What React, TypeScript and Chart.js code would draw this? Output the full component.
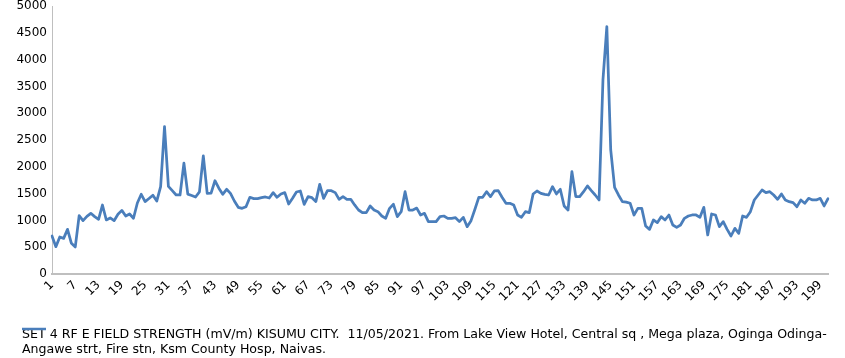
import React, { useEffect, useRef } from "react";
import { Chart, registerables } from "chart.js";

Chart.register(...registerables);

const categories: string[] = Array.from({ length: 201 }, (_, i) => String(i + 1));

const fieldStrength: number[] = [
  709, 510, 690, 665, 833, 572, 505, 1090, 995, 1075,
  1132, 1070, 1020, 1287, 1008, 1045, 995, 1115, 1187, 1082,
  1120, 1040, 1325, 1487, 1350, 1408, 1470, 1360, 1630, 2750,
  1635, 1555, 1474, 1474, 2070, 1490, 1465, 1437, 1533, 2205,
  1505, 1510, 1740, 1600, 1487, 1580, 1505, 1362, 1244, 1225,
  1256, 1431, 1406, 1406, 1424, 1437, 1418, 1518, 1431, 1493,
  1518, 1306, 1412, 1530, 1549, 1300, 1443, 1424, 1350, 1673,
  1412, 1555, 1555, 1518, 1393, 1443, 1393, 1393, 1288, 1194,
  1144, 1144, 1269, 1194, 1163, 1082, 1039, 1225, 1300, 1070,
  1163, 1536, 1194, 1194, 1230, 1101, 1132, 977, 977, 977,
  1070, 1082, 1039, 1039, 1051, 977, 1057, 883, 995, 1207,
  1431, 1431, 1536, 1443, 1549, 1555, 1431, 1319, 1319, 1288,
  1101, 1057, 1163, 1144, 1493, 1549, 1505, 1487, 1474, 1630,
  1493, 1580, 1269, 1194, 1910, 1443, 1443, 1536, 1642, 1555,
  1474, 1381, 3620, 4615, 2314, 1617, 1474, 1350, 1340, 1319,
  1101, 1225, 1225, 896, 833, 1008, 958, 1070, 1008, 1101,
  914, 871, 914, 1039, 1082, 1101, 1101, 1057, 1244, 728,
  1120, 1101, 883, 977, 833, 709, 852, 759, 1082, 1057,
  1163, 1381, 1474, 1567, 1518, 1536, 1474, 1393, 1493, 1381,
  1350, 1331, 1256, 1381, 1319, 1412, 1381, 1381, 1412, 1269,
  1406,
];

const xTickLabels: string[] = [
  "1", "7", "13", "19", "25", "31", "37", "43", "49", "55", "61", "67", "73", "79",
  "85", "91", "97", "103", "109", "115", "121", "127", "133", "139", "145", "151",
  "157", "163", "169", "175", "181", "187", "193", "199",
];

const yMin = 0;
const yMax = 5000;
const yStep = 500;

const captionLines: string[] = [
  "SET 4 RF E FIELD STRENGTH (mV/m) KISUMU CITY.  11/05/2021. From Lake View Hotel, Central sq , Mega plaza, Oginga Odinga-",
  "Angawe strt, Fire stn, Ksm County Hosp, Naivas.",
];

const seriesColor = "#4a7ebb";
const axisColor = "#bfbfbf";
const fontFamily = "'DejaVu Sans', sans-serif";
const captionIndent = 22;

const captionPlugin = {
  id: "captionKey",
  afterLayout(chart: any) {
    const tb = chart.titleBlock;
    if (tb) tb.left = captionIndent;
  },
  afterDraw(chart: any) {
    const tb = chart.titleBlock;
    if (!tb) return;
    const ctx = chart.ctx;
    ctx.save();
    ctx.strokeStyle = seriesColor;
    ctx.lineWidth = 2.5;
    ctx.beginPath();
    const y = tb.top + 2;
    ctx.moveTo(tb.left, y);
    ctx.lineTo(tb.left + 24, y);
    ctx.stroke();
    ctx.restore();
  },
};

export default function App() {
  const canvasRef = useRef<HTMLCanvasElement | null>(null);

  useEffect(() => {
    document.body.style.margin = "0";
    const canvas = canvasRef.current;
    if (!canvas) return;
    const chart = new Chart(canvas, {
      type: "line",
      data: {
        labels: categories,
        datasets: [
          {
            label: captionLines[0],
            data: fieldStrength,
            borderColor: seriesColor,
            backgroundColor: seriesColor,
            borderWidth: 2.75,
            pointRadius: 0,
            pointHoverRadius: 0,
            tension: 0,
            borderJoinStyle: "round",
            borderCapStyle: "round",
            fill: false,
          },
        ],
      },
      options: {
        responsive: false,
        animation: false,
        maintainAspectRatio: false,
        layout: { padding: { left: 0, right: 17, top: 6, bottom: 0 } },
        plugins: {
          legend: { display: false },
          tooltip: { enabled: false },
          title: {
            display: true,
            position: "bottom",
            align: "start",
            text: captionLines,
            color: "#000000",
            font: { family: fontFamily, size: 12.6, weight: "normal", lineHeight: "15px" },
            padding: { top: 0, bottom: 1 },
          },
        },
        scales: {
          x: {
            type: "category",
            offset: false,
            grid: { display: false, drawTicks: false },
            border: { display: true, color: axisColor, width: 2 },
            ticks: {
              autoSkip: false,
              minRotation: 45,
              maxRotation: 45,
              padding: 4,
              color: "#000000",
              font: { family: fontFamily, size: 12 },
              callback: function (this: any, value: any, index: number) {
                const lbl = categories[index];
                return xTickLabels.includes(lbl) ? lbl : "";
              },
            },
            afterFit(scale: any) {
              scale.height = 53;
            },
          },
          y: {
            min: yMin,
            max: yMax,
            grid: { display: false, drawTicks: false },
            border: { display: true, color: axisColor, width: 1 },
            ticks: {
              stepSize: yStep,
              padding: 5,
              color: "#000000",
              font: { family: fontFamily, size: 12 },
              callback: (value: any) => String(value),
            },
            afterFit(scale: any) {
              scale.width = 52;
              scale.paddingTop = 0;
              scale.paddingBottom = 0;
            },
          },
        },
      },
      plugins: [captionPlugin],
    });
    return () => chart.destroy();
  }, []);

  return (
    <div style={{ width: 845, height: 358, background: "#ffffff" }}>
      <canvas ref={canvasRef} width={845} height={358} style={{ display: "block" }} />
    </div>
  );
}
